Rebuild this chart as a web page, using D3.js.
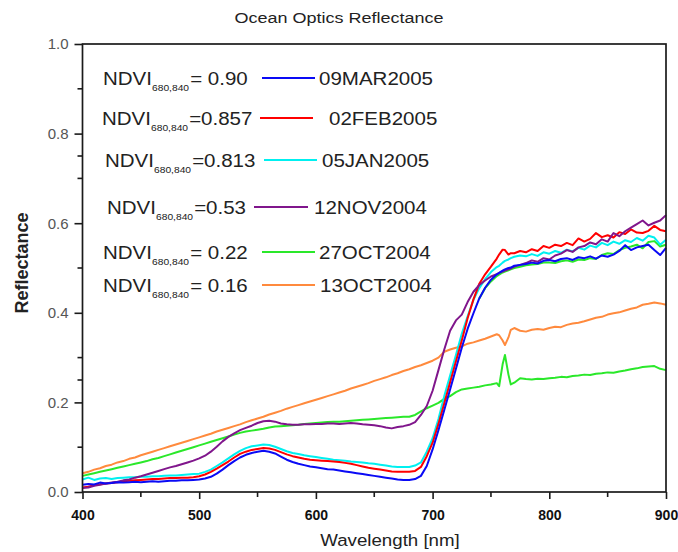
<!DOCTYPE html>
<html>
<head>
<meta charset="utf-8">
<script src="https://cdn.jsdelivr.net/npm/d3@7"></script>
<style>
  html, body { margin: 0; padding: 0; background: #fff; }
  svg { display: block; }
  text { font-family: Arial, "Liberation Sans", sans-serif; }
</style>
</head>
<body>
<svg id="chart" width="678" height="552"></svg>
<script>
// Wavelength grid (nm) shared by all spectra
const wavelengths = [
  400,405,410,415,420,425,430,435,440,445,
  450,455,460,465,470,475,480,485,490,495,
  500,505,510,515,520,525,530,535,540,545,
  550,555,560,565,570,575,580,585,590,595,
  600,605,610,615,620,625,630,635,640,645,
  650,655,660,665,670,675,680,685,690,695,
  700,705,710,715,720,725,730,735,740,745,
  750,755,757,760,762,765,767,770,775,780,
  785,790,795,800,805,810,815,820,825,830,
  835,840,845,850,855,860,865,870,875,880,
  885,890,895,900
];

// 09MAR2005, NDVI 0.90
const refl09MAR2005 = [
  0.016,0.018,0.017,0.021,0.019,0.020,0.022,0.021,0.022,0.023,
  0.022,0.023,0.024,0.023,0.024,0.025,0.025,0.026,0.026,0.027,
  0.028,0.030,0.034,0.041,0.050,0.060,0.069,0.077,0.083,0.087,
  0.090,0.092,0.090,0.086,0.079,0.072,0.067,0.063,0.060,0.057,
  0.055,0.053,0.051,0.050,0.048,0.046,0.044,0.042,0.040,0.038,
  0.036,0.034,0.032,0.030,0.028,0.027,0.027,0.029,0.036,0.058,
  0.095,0.138,0.183,0.229,0.275,0.322,0.364,0.399,0.432,0.456,
  0.474,0.486,0.489,0.494,0.497,0.500,0.501,0.505,0.507,0.509,
  0.512,0.510,0.516,0.518,0.515,0.520,0.522,0.518,0.524,0.522,
  0.526,0.521,0.528,0.525,0.530,0.538,0.551,0.540,0.546,0.549,
  0.552,0.540,0.529,0.545
];

// 02FEB2005, NDVI 0.857
const refl02FEB2005 = [
  0.010,0.012,0.015,0.017,0.019,0.020,0.022,0.024,0.025,0.026,
  0.027,0.028,0.029,0.029,0.030,0.031,0.031,0.032,0.032,0.033,
  0.035,0.039,0.045,0.052,0.060,0.068,0.077,0.085,0.090,0.094,
  0.096,0.098,0.097,0.094,0.089,0.084,0.080,0.077,0.074,0.072,
  0.071,0.070,0.069,0.068,0.067,0.065,0.063,0.060,0.057,0.054,
  0.052,0.050,0.048,0.046,0.045,0.045,0.045,0.047,0.056,0.080,
  0.110,0.152,0.198,0.245,0.292,0.338,0.388,0.430,0.465,0.486,
  0.503,0.521,0.530,0.541,0.540,0.530,0.533,0.533,0.538,0.535,
  0.542,0.538,0.549,0.545,0.552,0.549,0.556,0.551,0.566,0.559,
  0.565,0.578,0.569,0.573,0.568,0.580,0.576,0.586,0.579,0.578,
  0.583,0.594,0.585,0.582
];

// 05JAN2005, NDVI 0.813
const refl05JAN2005 = [
  0.028,0.032,0.027,0.030,0.031,0.029,0.031,0.032,0.033,0.033,
  0.034,0.034,0.035,0.035,0.036,0.037,0.037,0.038,0.039,0.040,
  0.041,0.045,0.050,0.058,0.066,0.075,0.084,0.092,0.098,0.102,
  0.104,0.106,0.105,0.101,0.096,0.091,0.087,0.085,0.082,0.080,
  0.078,0.076,0.074,0.072,0.071,0.070,0.068,0.067,0.066,0.064,
  0.063,0.061,0.059,0.057,0.056,0.056,0.056,0.059,0.066,0.090,
  0.120,0.163,0.214,0.260,0.306,0.353,0.392,0.429,0.455,0.475,
  0.491,0.502,0.505,0.512,0.516,0.519,0.522,0.525,0.528,0.526,
  0.531,0.527,0.535,0.532,0.538,0.534,0.541,0.537,0.545,0.541,
  0.550,0.546,0.556,0.551,0.559,0.554,0.562,0.558,0.567,0.561,
  0.572,0.568,0.552,0.563
];

// 12NOV2004, NDVI 0.53
const refl12NOV2004 = [
  0.009,0.010,0.014,0.016,0.019,0.021,0.023,0.026,0.028,0.032,
  0.035,0.039,0.043,0.047,0.051,0.055,0.058,0.062,0.066,0.070,
  0.075,0.081,0.090,0.101,0.113,0.123,0.131,0.138,0.143,0.148,
  0.154,0.158,0.159,0.157,0.153,0.151,0.150,0.150,0.151,0.151,
  0.152,0.152,0.153,0.153,0.152,0.153,0.154,0.153,0.151,0.150,
  0.149,0.147,0.144,0.142,0.145,0.147,0.150,0.156,0.172,0.192,
  0.226,0.272,0.318,0.360,0.383,0.396,0.424,0.447,0.462,0.472,
  0.481,0.486,0.489,0.492,0.494,0.497,0.499,0.503,0.507,0.511,
  0.517,0.514,0.522,0.519,0.528,0.532,0.540,0.536,0.546,0.549,
  0.557,0.553,0.564,0.559,0.578,0.571,0.582,0.590,0.598,0.606,
  0.595,0.601,0.606,0.618
];

// 27OCT2004, NDVI 0.22
const refl27OCT2004 = [
  0.036,0.039,0.042,0.045,0.048,0.051,0.054,0.057,0.060,0.063,
  0.066,0.069,0.073,0.076,0.080,0.084,0.088,0.092,0.096,0.100,
  0.104,0.108,0.112,0.116,0.120,0.124,0.128,0.132,0.135,0.137,
  0.139,0.141,0.144,0.146,0.147,0.148,0.149,0.150,0.152,0.153,
  0.154,0.155,0.156,0.157,0.157,0.158,0.159,0.160,0.161,0.162,
  0.163,0.164,0.165,0.166,0.167,0.168,0.168,0.172,0.180,0.187,
  0.193,0.199,0.208,0.214,0.223,0.229,0.231,0.233,0.235,0.238,
  0.240,0.243,0.236,0.285,0.306,0.262,0.240,0.244,0.254,0.252,
  0.251,0.253,0.252,0.254,0.255,0.257,0.256,0.259,0.260,0.262,
  0.261,0.264,0.265,0.267,0.266,0.269,0.271,0.274,0.276,0.279,
  0.280,0.281,0.275,0.272
];

// 13OCT2004, NDVI 0.16
const refl13OCT2004 = [
  0.042,0.045,0.050,0.053,0.058,0.061,0.066,0.069,0.074,0.077,
  0.082,0.086,0.090,0.094,0.098,0.102,0.106,0.110,0.114,0.118,
  0.122,0.126,0.130,0.135,0.139,0.143,0.147,0.151,0.156,0.160,
  0.164,0.168,0.173,0.177,0.181,0.186,0.190,0.194,0.198,0.202,
  0.206,0.210,0.214,0.218,0.222,0.226,0.231,0.235,0.239,0.243,
  0.248,0.252,0.256,0.261,0.265,0.270,0.274,0.279,0.283,0.288,
  0.293,0.300,0.313,0.318,0.322,0.325,0.331,0.334,0.338,0.342,
  0.347,0.352,0.350,0.338,0.328,0.345,0.362,0.366,0.360,0.358,
  0.362,0.364,0.362,0.366,0.369,0.368,0.373,0.376,0.378,0.381,
  0.385,0.389,0.391,0.396,0.399,0.401,0.405,0.409,0.412,0.418,
  0.420,0.423,0.421,0.418
];

// Extra green trace on the NIR plateau (no legend entry)
const reflPlateauGreen = [
  null,null,null,null,null,null,null,null,null,null,
  null,null,null,null,null,null,null,null,null,null,
  null,null,null,null,null,null,null,null,null,null,
  null,null,null,null,null,null,null,null,null,null,
  null,null,null,null,null,null,null,null,null,null,
  null,null,null,null,null,null,null,null,null,null,
  null,null,null,null,null,null,null,null,0.432,0.455,
  0.470,0.482,0.485,0.490,0.492,0.495,0.497,0.500,0.503,0.506,
  0.508,0.509,0.512,0.512,0.511,0.515,0.517,0.514,0.519,0.518,
  0.522,0.520,0.529,0.533,0.531,0.540,0.545,0.548,0.552,0.544,
  0.558,0.560,0.548,0.552
];

// Legend entries
const ndviLabels = ["= 0.90", "=0.857", "=0.813", "=0.53", "= 0.22", "= 0.16"];
const dateLabels = ["09MAR2005", "02FEB2005", "05JAN2005", "12NOV2004", "27OCT2004", "13OCT2004"];

// Axis ticks
const xTicks = [400, 500, 600, 700, 800, 900];
const xMinorTicks = [450, 550, 650, 750, 850];
const yTicks = [0.0, 0.2, 0.4, 0.6, 0.8, 1.0];
const yMinorTicks = [0.1, 0.25, 0.3, 0.5, 0.7, 0.75, 0.9];

const colors = {
  "09MAR2005": "#0a0af5",
  "02FEB2005": "#ff0000",
  "05JAN2005": "#00f0f0",
  "12NOV2004": "#80168c",
  "27OCT2004": "#2ae82a",
  "13OCT2004": "#ff8a3d"
};

const svg = d3.select("#chart");
const x = d3.scaleLinear().domain([400, 900]).range([82.5, 666]);
const y = d3.scaleLinear().domain([0, 1]).range([492, 44]);

// Text drawn slightly widened horizontally
function wideText(parent, tx, ty, sx, anchor) {
  return parent.append("text")
    .attr("transform", `translate(${tx},${ty}) scale(${sx},1)`)
    .attr("text-anchor", anchor || "start");
}

// Title
wideText(svg, 339, 23, 1.2, "middle")
  .attr("font-size", 15).attr("fill", "#222")
  .text("Ocean Optics Reflectance");

// Spectra
const line = d3.line()
  .defined(d => d[1] != null)
  .x(d => x(d[0]))
  .y(d => y(d[1]));

const seriesOrder = [
  ["13OCT2004", refl13OCT2004, colors["13OCT2004"]],
  ["27OCT2004", refl27OCT2004, colors["27OCT2004"]],
  ["plateau", reflPlateauGreen, colors["27OCT2004"]],
  ["05JAN2005", refl05JAN2005, colors["05JAN2005"]],
  ["02FEB2005", refl02FEB2005, colors["02FEB2005"]],
  ["12NOV2004", refl12NOV2004, colors["12NOV2004"]],
  ["09MAR2005", refl09MAR2005, colors["09MAR2005"]]
];

const plot = svg.append("g");
seriesOrder.forEach(([name, vals, col]) => {
  plot.append("path")
    .datum(wavelengths.map((w, i) => [w, vals[i]]))
    .attr("fill", "none")
    .attr("stroke", col)
    .attr("stroke-width", 2)
    .attr("stroke-linejoin", "round")
    .attr("d", line);
});

// Frame
svg.append("rect")
  .attr("x", x(400)).attr("y", y(1))
  .attr("width", x(900) - x(400)).attr("height", y(0) - y(1))
  .attr("fill", "none").attr("stroke", "#1a1a1a").attr("stroke-width", 1.7);

// X axis
const xAxis = svg.append("g").attr("transform", `translate(0,${y(0)})`);
xAxis.call(d3.axisBottom(x).tickValues(xTicks).tickSize(7).tickFormat(d3.format("d")))
  .call(g => g.select(".domain").remove())
  .call(g => g.selectAll(".tick line").attr("stroke", "#1a1a1a").attr("stroke-width", 1.6))
  .call(g => g.selectAll(".tick text")
    .attr("y", 18).attr("dy", "0.71em")
    .attr("font-size", 14).attr("font-weight", "bold")
    .attr("font-family", "Arial, 'Liberation Sans', sans-serif")
    .attr("fill", "#111"));
xAxis.selectAll(".minor").data(xMinorTicks).join("line")
  .attr("class", "minor")
  .attr("x1", d => x(d)).attr("x2", d => x(d))
  .attr("y1", 0).attr("y2", 5)
  .attr("stroke", "#1a1a1a").attr("stroke-width", 1.6);

// Y axis
const yAxis = svg.append("g").attr("transform", `translate(${x(400)},0)`);
yAxis.call(d3.axisLeft(y).tickValues(yTicks).tickSize(8).tickFormat(d3.format(".1f")))
  .call(g => g.select(".domain").remove())
  .call(g => g.selectAll(".tick line").attr("stroke", "#1a1a1a").attr("stroke-width", 1.6))
  .call(g => g.selectAll(".tick text")
    .attr("x", -14)
    .attr("font-size", 15)
    .attr("font-family", "Arial, 'Liberation Sans', sans-serif")
    .attr("fill", "#555"));
yAxis.selectAll(".minor").data(yMinorTicks).join("line")
  .attr("class", "minor")
  .attr("x1", -5).attr("x2", 0)
  .attr("y1", d => y(d)).attr("y2", d => y(d))
  .attr("stroke", "#1a1a1a").attr("stroke-width", 1.6);

// Axis titles
wideText(svg, 390, 546, 1.1, "middle")
  .attr("font-family", "'DejaVu Sans', sans-serif")
  .attr("font-size", 17).attr("fill", "#222")
  .text("Wavelength [nm]");

svg.append("text")
  .attr("transform", "translate(28,263) rotate(-90)")
  .attr("text-anchor", "middle")
  .attr("font-size", 18).attr("font-weight", "bold").attr("fill", "#222")
  .text("Reflectance");

// Legend
const legendLayout = [
  { x: 103, y: 78, lx1: 262, lx2: 315, dx: 319 },
  { x: 102, y: 118, lx1: 260, lx2: 313, dx: 329 },
  { x: 105, y: 160, lx1: 264, lx2: 317, dx: 322 },
  { x: 107, y: 207, lx1: 254, lx2: 308, dx: 314 },
  { x: 103, y: 252, lx1: 262, lx2: 315, dx: 319 },
  { x: 103, y: 285, lx1: 262, lx2: 315, dx: 320 }
];
const legend = svg.append("g").attr("fill", "#222");
dateLabels.forEach((date, i) => {
  const L = legendLayout[i];
  const t = wideText(legend, L.x, L.y + 7, 1.08).attr("font-size", 19);
  t.append("tspan").text("NDVI");
  t.append("tspan").attr("font-size", 9.5).attr("dy", 6).text("680,840");
  t.append("tspan").attr("dx", 1).attr("dy", -6).text(ndviLabels[i]);
  legend.append("line")
    .attr("x1", L.lx1).attr("x2", L.lx2)
    .attr("y1", L.y).attr("y2", L.y)
    .attr("stroke", colors[date]).attr("stroke-width", 2);
  wideText(legend, L.dx, L.y + 7, 1.08)
    .attr("font-size", 19)
    .text(date);
});
</script>
</body>
</html>
